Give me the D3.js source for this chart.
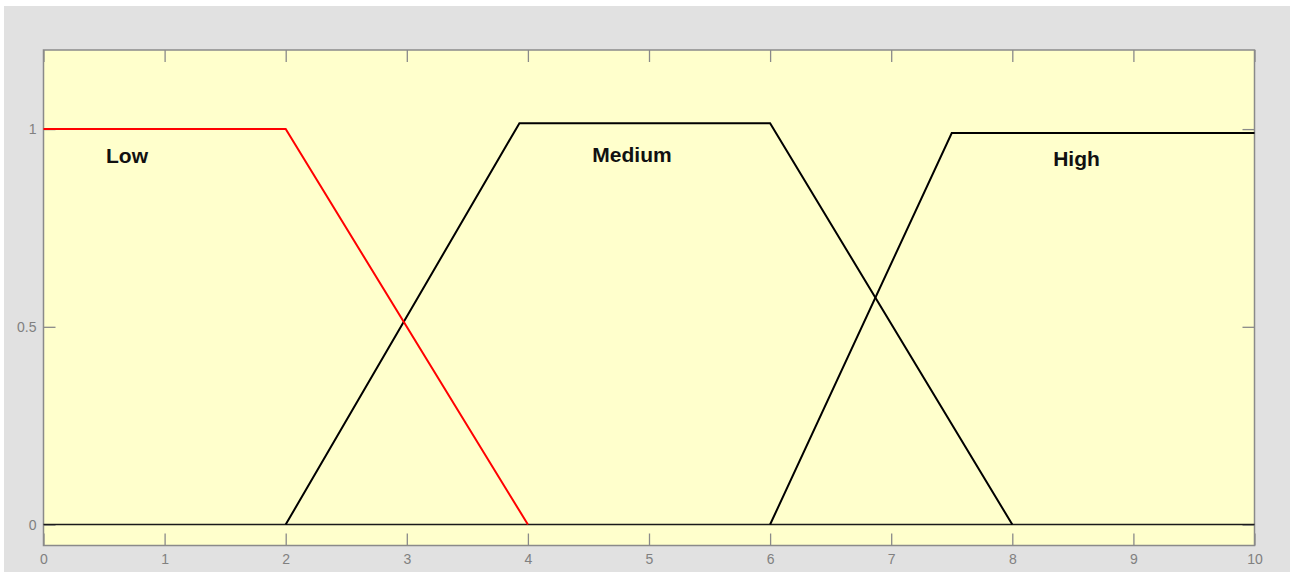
<!DOCTYPE html>
<html>
<head>
<meta charset="utf-8">
<title>Membership functions</title>
<script src="https://d3js.org/d3.v7.min.js"></script>
<style>
  * { margin: 0; padding: 0; }
  body { background: #fff; }
</style>
</head>
<body>
<div id="chart"></div>
<script>
// membership function shapes [x, mu]
const lowPts = [[0, 1], [2, 1], [4, 0]];
const mediumPts = [[2, 0], [3.93, 1.015], [6, 1.015], [8, 0]];
const highPts = [[6, 0], [7.5, 0.99], [10, 0.99]];

const labelNames = ["Low", "Medium", "High"];
const labelX = [0.69, 4.86, 8.53];
const labelY = [0.914, 0.918, 0.906];

const xTicks = [0, 1, 2, 3, 4, 5, 6, 7, 8, 9, 10];
const yTicks = [0, 0.5, 1];

const W = 1290, H = 574;
const plot = { left: 43.5, right: 1254.5, top: 50, bottom: 545.5 };

const svg = d3.select("#chart").append("svg")
  .attr("width", W).attr("height", H);

// gray figure background
svg.append("rect").attr("x", 4).attr("y", 6)
  .attr("width", W - 4).attr("height", H - 8).attr("fill", "#e1e1e1");

const x = d3.scaleLinear().domain([0, 10]).range([plot.left, plot.right]);
const y = d3.scaleLinear().domain([-0.053, 1.2]).range([plot.bottom, plot.top]);

svg.append("rect")
  .attr("x", plot.left).attr("y", plot.top)
  .attr("width", plot.right - plot.left).attr("height", plot.bottom - plot.top)
  .attr("fill", "#ffffcc");

const tickLen = 12;
const axisCol = "#8a8a8a";

// axes: bottom/top and left/right with inner ticks
function styleAxis(g) {
  g.select(".domain").remove();
  g.selectAll(".tick line").attr("stroke", axisCol).attr("stroke-width", 1.3);
  g.selectAll(".tick text").attr("fill", "#808080")
    .attr("font-family", "Liberation Sans, Arial, sans-serif").attr("font-size", 14);
}

svg.append("g").attr("transform", `translate(0,${plot.bottom})`)
  .call(d3.axisBottom(x).tickValues(xTicks).tickFormat(d3.format("d"))
    .tickSizeInner(-tickLen).tickSizeOuter(0).tickPadding(9))
  .call(styleAxis);

svg.append("g").attr("transform", `translate(0,${plot.top})`)
  .call(d3.axisTop(x).tickValues(xTicks).tickFormat("")
    .tickSizeInner(-tickLen).tickSizeOuter(0))
  .call(styleAxis);

svg.append("g").attr("transform", `translate(${plot.left},0)`)
  .call(d3.axisLeft(y).tickValues(yTicks).tickFormat(d => d)
    .tickSizeInner(-tickLen).tickSizeOuter(0).tickPadding(7))
  .call(styleAxis);

svg.append("g").attr("transform", `translate(${plot.right},0)`)
  .call(d3.axisRight(y).tickValues(yTicks).tickFormat("")
    .tickSizeInner(-tickLen).tickSizeOuter(0))
  .call(styleAxis);

// box
svg.append("rect")
  .attr("x", plot.left).attr("y", plot.top)
  .attr("width", plot.right - plot.left).attr("height", plot.bottom - plot.top)
  .attr("fill", "none").attr("stroke", axisCol).attr("stroke-width", 1.5);

// zero baseline
svg.append("line")
  .attr("x1", x(0)).attr("x2", x(10)).attr("y1", y(0)).attr("y2", y(0))
  .attr("stroke", "#1a1a1a").attr("stroke-width", 1.6);

const line = d3.line().x(d => x(d[0])).y(d => y(d[1]));

svg.append("path").datum(mediumPts).attr("d", line)
  .attr("fill", "none").attr("stroke", "#000").attr("stroke-width", 2);
svg.append("path").datum(highPts).attr("d", line)
  .attr("fill", "none").attr("stroke", "#000").attr("stroke-width", 2);
svg.append("path").datum(lowPts).attr("d", line)
  .attr("fill", "none").attr("stroke", "#ff0000").attr("stroke-width", 2);

svg.selectAll(".mf-label").data(labelNames).join("text")
  .attr("class", "mf-label")
  .attr("x", (d, i) => x(labelX[i]))
  .attr("y", (d, i) => y(labelY[i]))
  .attr("text-anchor", "middle")
  .attr("font-family", "Liberation Sans, Arial, sans-serif")
  .attr("font-weight", "bold")
  .attr("font-size", 21)
  .attr("fill", "#111")
  .text(d => d);
</script>
</body>
</html>
